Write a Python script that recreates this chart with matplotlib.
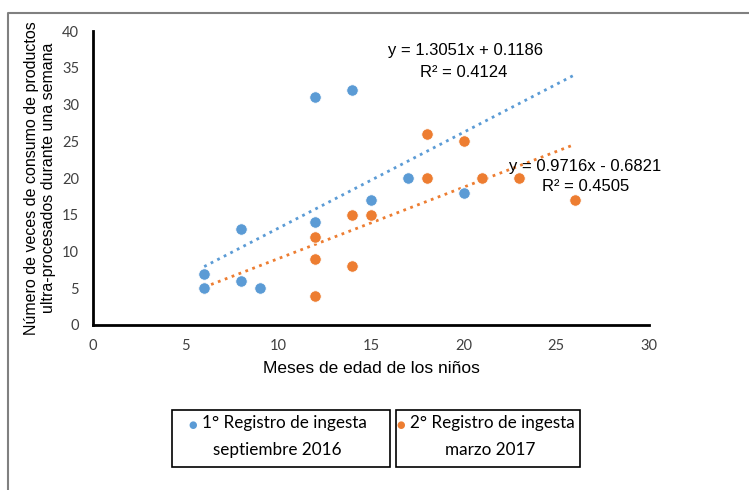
import numpy as np
import matplotlib.pyplot as plt
from matplotlib.patches import Rectangle
from matplotlib.lines import Line2D

# data
x1 = [6, 6, 8, 8, 9, 12, 12, 14, 15, 17, 20]
y1 = [7, 5, 13, 6, 5, 31, 14, 32, 17, 20, 18]
x2 = [6, 12, 12, 12, 14, 14, 15, 18, 18, 20, 21, 23, 26]
y2 = [5, 12, 9, 4, 15, 8, 15, 26, 20, 25, 20, 20, 17]
fit1 = (1.3051, 0.1186, 0.4124)
fit2 = (0.9716, -0.6821, 0.4505)
trend_x = [6, 26]

blue = '#5B9BD5'
orange = '#ED7D31'
W, H = 749, 490

fig = plt.figure(figsize=(W / 100, H / 100), dpi=100)
ax = fig.add_axes([93 / W, 1 - 325 / H, 556 / W, 294 / H])

ax.scatter(x2, y2, s=68, color=orange, edgecolors='white', linewidths=0.6, zorder=3)
ax.scatter(x1, y1, s=68, color=blue, edgecolors='white', linewidths=0.6, zorder=4)

tx = np.array(trend_x)
ax.plot(tx, fit1[0] * tx + fit1[1], ls=':', lw=2, color=blue, zorder=2)
ax.plot(tx, fit2[0] * tx + fit2[1], ls=':', lw=2, color=orange, zorder=2)

eq_font = dict(ha='center', va='center', fontsize=12, family='Liberation Sans')
ax.text(20.1, 37.4, f"y = {fit1[0]:.4f}x + {fit1[1]:.4f}", **eq_font)
ax.text(20.0, 34.4, f"R² = {fit1[2]:.4f}", **eq_font)
ax.text(26.55, 21.5, f"y = {fit2[0]:.4f}x - {abs(fit2[1]):.4f}", **eq_font)
ax.text(26.6, 18.9, f"R² = {fit2[2]:.4f}", **eq_font)

ax.set_xlim(0, 30)
ax.set_ylim(0, 40)
ax.set_xticks(range(0, 31, 5))
ax.set_yticks(range(0, 41, 5))
ax.tick_params(length=0, labelsize=10.5, colors='#404040', pad=10)
for lab in ax.get_xticklabels() + ax.get_yticklabels():
    lab.set_family('Lato')
for s in ['top', 'right']:
    ax.spines[s].set_visible(False)
for s in ['left', 'bottom']:
    ax.spines[s].set_linewidth(2)
    ax.spines[s].set_color('black')

ax.set_xlabel("Meses de edad de los niños", fontsize=12.5, family='Liberation Sans', labelpad=6)
ax.set_ylabel("Número de veces de consumo de productos\nultra-procesados durante una semana",
              fontsize=11.5, family='Liberation Sans', labelpad=4)

# outer frame (only top and left edges visible in the crop)
fig.add_artist(Line2D([8 / W, 8 / W, 1], [0, 1 - 13 / H, 1 - 13 / H],
                      transform=fig.transFigure, color='#808080', lw=1.5))

# legend boxes: left, right, colour, line 1, line 2, dot offset, text offset, line-2 shift
boxes = [(172, 390, blue, "1° Registro de ingesta", "septiembre 2016", 21, 30, -4),
         (396, 580, orange, "2° Registro de ingesta", "marzo 2017", 5, 14, 2)]
for x0, x1b, col, l1, l2, dot_off, txt_off, shift in boxes:
    fig.add_artist(Rectangle((x0 / W, 1 - 467 / H), (x1b - x0) / W, 57 / H,
                             transform=fig.transFigure, fill=False, ec='black', lw=1.2))
    fig.text((x0 + dot_off) / W, 1 - 425 / H, "●", color=col, fontsize=7, ha='center', va='center')
    fig.text((x0 + txt_off) / W, 1 - 423 / H, l1, fontsize=12.3, family='Lato', va='center')
    fig.text(((x0 + x1b) / 2 + shift) / W, 1 - 450 / H, l2, fontsize=12.3, family='Lato',
             ha='center', va='center')

fig.savefig('out.png', dpi=100)
